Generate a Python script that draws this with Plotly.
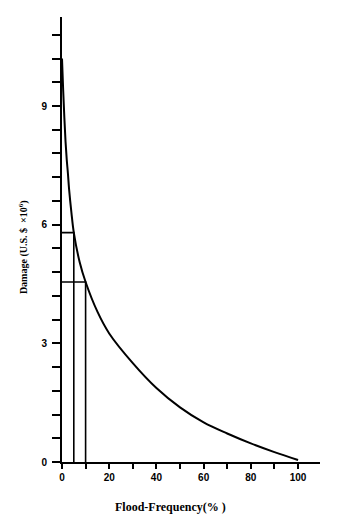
import plotly.graph_objects as go

# Data
freq = [0, 0.5, 1, 1.5, 2, 2.5, 3, 4, 5, 7.5, 10, 15, 20, 30, 40, 50, 60, 70, 80, 90, 100]
damage = [10.2, 9.4, 8.7, 8.1, 7.65, 7.3, 6.9, 6.3, 5.8, 5.05, 4.55, 3.8, 3.25, 2.5, 1.87, 1.38, 1.0, 0.72, 0.47, 0.25, 0.05]
marked_freq = [5, 10]
marked_damage = [5.8, 4.55]

x_tick_vals = [0, 20, 40, 60, 80, 100]
y_tick_vals = [0, 3, 6, 9]

fig = go.Figure()
fig.add_trace(go.Scatter(x=freq, y=damage, mode="lines",
                         line=dict(color="black", width=2, shape="spline", smoothing=1.0),
                         hoverinfo="skip", showlegend=False))
for f, d in zip(marked_freq, marked_damage):
    fig.add_trace(go.Scatter(x=[0, f, f], y=[d, d, 0], mode="lines",
                             line=dict(color="black", width=1.6),
                             hoverinfo="skip", showlegend=False))

tick_font = dict(family="Liberation Sans, Arial", size=10, color="black", weight="bold")

fig.update_layout(
    width=329, height=515,
    margin=dict(l=54, r=17, t=9, b=61),
    paper_bgcolor="white", plot_bgcolor="white",
    showlegend=False,
    xaxis=dict(range=[0, 109.3], tickvals=x_tick_vals, ticks="outside", ticklen=5,
               tickwidth=1.5, tickcolor="black", showline=True, linecolor="black",
               linewidth=2, showgrid=False, zeroline=False, automargin=False,
               tickfont=tick_font,
               minor=dict(dtick=10, tick0=0, ticks="outside", ticklen=5, tickwidth=1.5,
                          tickcolor="black", showgrid=False)),
    yaxis=dict(range=[0, 11.25], tickvals=y_tick_vals, ticks="outside", ticklen=8,
               tickwidth=1.5, tickcolor="black", showline=True, linecolor="black",
               linewidth=2, showgrid=False, zeroline=False, automargin=False,
               tickfont=tick_font, ticklabelstandoff=3,
               minor=dict(dtick=0.6, tick0=0, ticks="outside", ticklen=8, tickwidth=1.5,
                          tickcolor="black", showgrid=False)),
    annotations=[
        dict(text="<b>Flood-Frequency(% )</b>", xref="paper", yref="paper",
             x=0.419, y=-0.102, xanchor="center", yanchor="middle", showarrow=False,
             font=dict(family="Liberation Serif, Times New Roman", size=12, color="black")),
        dict(text="<b>Damage (U.S. $  ×10<sup>6</sup>)</b>", xref="paper", yref="paper",
             x=-0.151, y=0.483, xanchor="center", yanchor="middle", showarrow=False,
             textangle=-90,
             font=dict(family="Liberation Serif, Times New Roman", size=10, color="black")),
    ],
)

fig.write_html("out.html")
